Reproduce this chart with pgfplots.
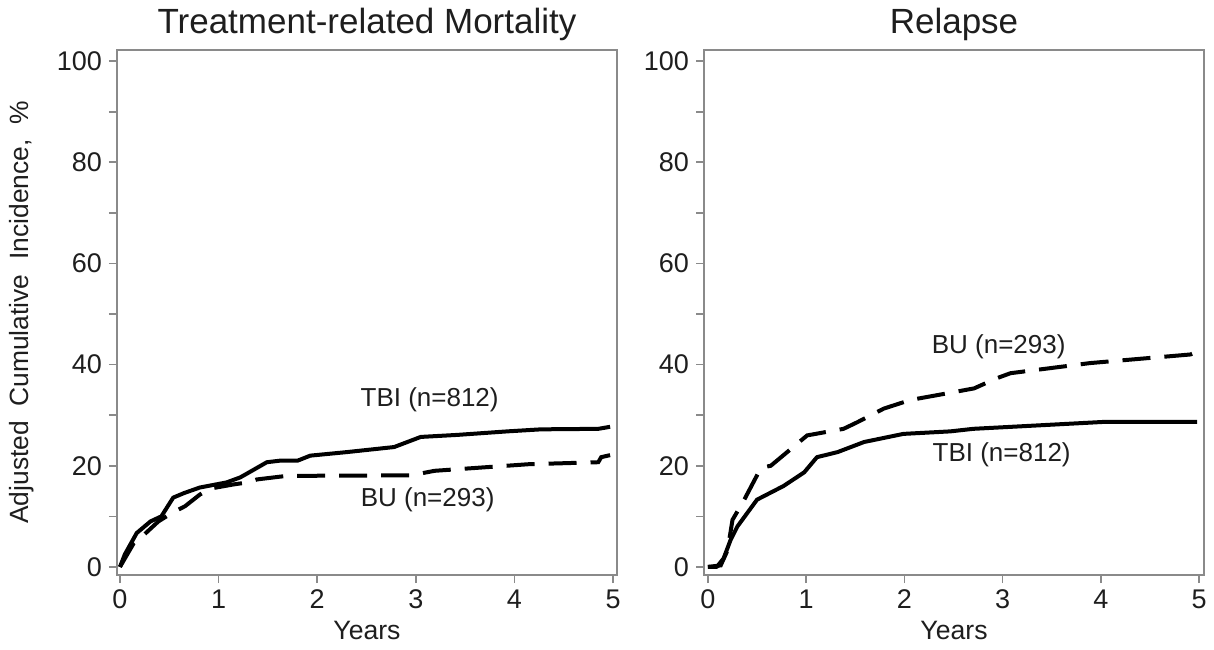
\documentclass[border=0pt]{standalone}
\usepackage{fontspec}
\setmainfont{Liberation Sans}
\usepackage{pgfplots}
\pgfplotsset{compat=1.18}

\definecolor{framegray}{HTML}{8A8A8A}
\definecolor{txt}{HTML}{1E1E1E}

\tikzset{lab/.style={font=\fontsize{13}{15}\selectfont, text=txt}}

\pgfplotsset{
  cif/.style={
    scale only axis, width=250pt, height=262.5pt,
    ymin=-1.6, ymax=102.2,
    xtick={0,1,2,3,4,5},
    ytick={0,10,...,100},
    yticklabels={0,,20,,40,,60,,80,,100},
    tick align=outside, tick pos=left,
    major tick length=4pt,
    axis line style={framegray, line width=0.8pt},
    every tick/.style={framegray, line width=0.8pt},
    ticklabel style={font=\fontsize{13.5}{15}\selectfont, text=txt},
    /pgf/number format/assume math mode=true,
    xlabel={Years},
    xlabel style={font=\fontsize{13.3}{15}\selectfont, text=txt, yshift=1pt},
    title style={font=\fontsize{17.5}{19}\selectfont, text=txt, yshift=-5pt},
    clip=false,
  },
  tbi/.style={black, line width=2pt, line join=round},
  bu/.style={black, line width=2pt, dash pattern=on 14pt off 7pt},
}

\begin{document}
\begin{tikzpicture}
\useasboundingbox (-58.5pt,-37pt) rectangle (548.5pt,287.5pt);

\begin{axis}[cif, at={(0pt,0pt)}, anchor=south west,
  xmin=-0.03, xmax=5.04,
  title={Treatment-related Mortality},
  ylabel={Adjusted\ \ Cumulative\ \ Incidence,\ \ \%},
  ylabel style={font=\fontsize{13.2}{15}\selectfont, text=txt, yshift=4.5pt},
]
% TBI
\addplot[tbi] coordinates {
(0,0) (0.05,2.5) (0.17,6.7) (0.31,9) (0.42,10) (0.54,13.7) (0.65,14.6)
(0.81,15.7) (1.08,16.7) (1.22,17.7) (1.49,20.7) (1.62,21) (1.80,21)
(1.93,22) (2.30,22.7) (2.78,23.7) (3.05,25.7) (3.42,26.1) (3.93,26.8)
(4.27,27.2) (4.85,27.3) (4.97,27.7)};
% BU
\addplot[bu] coordinates {
(0,0) (0.14,4.7) (0.24,6.3) (0.39,9) (0.53,10.7) (0.66,12) (0.81,14.3)
(0.92,15.5) (1.15,16.3) (1.29,16.7) (1.39,17.3) (1.69,18) (2.95,18.1)
(3.19,19) (4.14,20.3) (4.85,20.7) (4.88,21.7) (4.97,22.1)};
\node[lab] at (axis cs:3.14,33.0) {TBI (n=812)};
\node[lab] at (axis cs:3.12,13.2) {BU (n=293)};
\end{axis}

\begin{axis}[cif, at={(293.5pt,0pt)}, anchor=south west,
  xmin=-0.04, xmax=5.05,
  title={Relapse},
]
% TBI
\addplot[tbi] coordinates {
(0,0) (0.09,0) (0.16,1.7) (0.23,5.3) (0.30,8) (0.50,13.3) (0.77,16)
(0.98,18.7) (1.11,21.7) (1.32,22.7) (1.59,24.7) (1.99,26.3) (2.47,26.8)
(2.70,27.3) (3.38,28) (4.06,28.7) (4.98,28.7)};
% BU
\addplot[bu] coordinates {
(0,0) (0.13,0.3) (0.20,3.3) (0.25,9.3) (0.37,13.3) (0.54,19.6) (0.64,20)
(1.01,26) (1.38,27.3) (1.52,28.6) (1.79,31.3) (2.06,33) (2.43,34.3)
(2.71,35.3) (2.94,37.3) (3.08,38.3) (3.89,40.3) (4.91,42) (4.99,42.6)};
\node[lab] at (axis cs:2.96,43.5) {BU (n=293)};
\node[lab] at (axis cs:2.99,22.1) {TBI (n=812)};
\end{axis}
\end{tikzpicture}
\end{document}
